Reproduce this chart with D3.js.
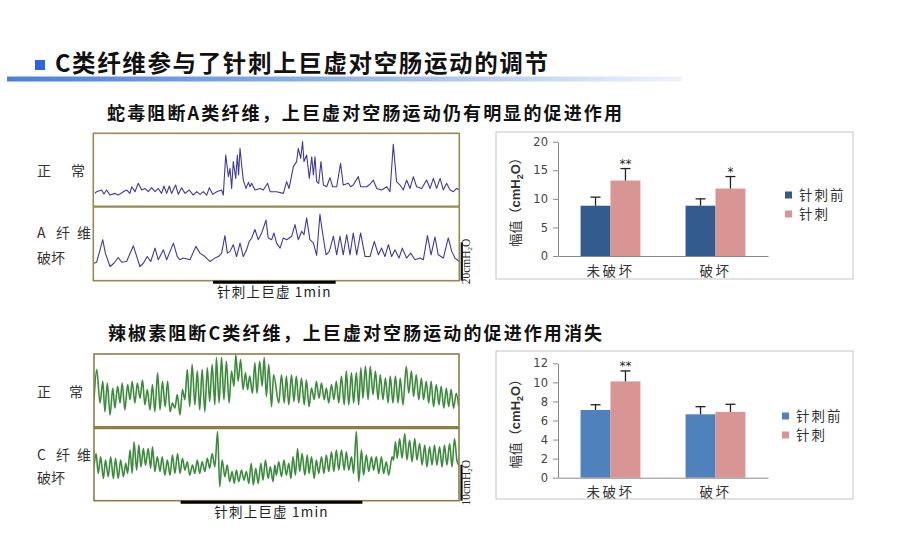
<!DOCTYPE html>
<html>
<head>
<meta charset="utf-8">
<script src="https://cdn.jsdelivr.net/npm/d3@7"></script>
<style>
  body { margin: 0; background: #fff; }
  svg { display: block; font-family: "Noto Sans CJK SC", sans-serif; }
</style>
</head>
<body>
<svg id="slide" width="900" height="537"></svg>
<script>
// ---------- texts ----------
const titleText = "C类纤维参与了针刺上巨虚对空肠运动的调节";
const subtitleSnake = "蛇毒阻断A类纤维，上巨虚对空肠运动仍有明显的促进作用";
const subtitleCap = "辣椒素阻断C类纤维，上巨虚对空肠运动的促进作用消失";
const stimLabel = "针刺上巨虚 1min";

// ---------- bar charts ----------
const groups = ["未破坏", "破坏"];
const seriesNames = ["针刺前", "针刺"];

const snakeBefore = [8.8, 8.8];
const snakeBeforeErr = [1.5, 1.2];
const snakeAfter = [13.2, 11.8];
const snakeAfterErr = [2.1, 2.1];
const snakeStars = ["**", "*"];
const snakeTicks = [0, 5, 10, 15, 20];

const capBefore = [7.1, 6.65];
const capBeforeErr = [0.55, 0.8];
const capAfter = [10.1, 6.9];
const capAfterErr = [1.1, 0.8];
const capStars = ["**", ""];
const capTicks = [0, 2, 4, 6, 8, 10, 12];

// ---------- pressure traces: [time (s), pressure (cmH2O)] ----------
// 蛇毒组 (record ~179 s, needling 58.6–118.6 s)
const snakeNormal = [
  [0.8,7.0],[1.6,7.9],[4.1,8.8],[5.2,6.7],[6.5,8.8],[8.2,6.1],[10.6,7.0],[12.2,6.1],[14.7,7.9],[16.3,8.8],
  [17.9,7.0],[18.8,10.5],[20.4,7.9],[22.0,12.3],[23.7,8.8],[25.3,9.6],[26.9,7.9],[28.5,10.0],[30.2,7.9],[31.8,9.6],
  [33.4,7.0],[34.6,10.9],[35.9,7.0],[37.2,10.9],[38.3,7.0],[40.3,11.4],[41.6,6.5],[43.2,10.0],[44.9,7.0],[47.0,8.8],
  [48.9,6.1],[50.6,7.9],[52.2,6.5],[53.8,7.9],[55.5,6.1],[56.8,10.0],[58.4,6.5],[60.4,7.9],[62.8,8.8],[63.6,6.1],
  [64.8,27.2],[66.1,15.8],[66.9,20.2],[67.7,9.6],[68.5,23.7],[69.7,14.9],[70.5,27.2],[71.1,16.7],[71.8,30.7],[72.6,21.9],
  [73.4,14.0],[74.7,9.6],[75.9,12.8],[76.7,10.5],[77.5,12.3],[79.1,8.8],[81.6,9.6],[83.2,8.8],[85.3,12.3],[86.5,7.9],
  [89.7,7.9],[93.0,7.0],[94.6,13.2],[95.8,9.6],[97.1,16.7],[97.9,21.1],[99.5,23.7],[100.3,30.7],[101.5,25.4],[102.4,34.2],
  [103.1,23.7],[104.4,27.2],[105.7,14.9],[106.9,26.3],[107.7,16.7],[108.5,26.3],[109.3,13.2],[110.3,12.3],[111.4,23.7],[112.6,11.4],
  [114.2,10.5],[115.8,15.3],[117.1,10.5],[119.1,10.5],[121.0,22.8],[122.3,11.4],[124.8,12.3],[125.9,10.5],[127.2,11.4],[129.7,15.8],
  [130.8,10.5],[133.8,10.5],[135.4,11.8],[137.0,14.0],[138.7,9.6],[141.1,8.8],[143.6,10.5],[145.2,7.9],[146.8,32.8],[148.4,13.2],
  [150.1,11.4],[151.7,8.8],[153.3,14.0],[155.0,9.6],[156.6,15.8],[158.2,10.5],[160.7,9.6],[163.1,14.0],[164.8,9.6],[166.4,14.9],
  [168.0,9.6],[169.7,14.9],[171.3,8.8],[172.9,12.3],[174.6,8.8],[176.2,7.9],[177.8,9.6],[179.1,8.8]
];
const snakeBlocked = [
  [0.3,9.1],[1.6,9.6],[3.3,16.1],[4.6,21.4],[5.9,14.4],[8.2,7.4],[10.1,9.1],[12.2,12.1],[13.9,9.6],[16.3,10.0],
  [19.6,18.2],[21.5,11.8],[22.8,7.4],[24.5,9.1],[26.4,12.6],[28.1,10.0],[30.2,17.0],[31.8,10.9],[34.3,16.1],[35.9,10.9],
  [39.2,19.6],[41.1,12.6],[42.4,10.9],[44.0,11.8],[47.3,10.9],[50.2,17.9],[52.2,14.4],[54.6,12.6],[57.1,10.0],[59.5,11.8],
  [61.2,12.6],[62.8,14.4],[64.4,23.5],[65.6,14.4],[66.9,15.3],[68.5,18.8],[70.1,12.6],[71.8,19.6],[73.4,12.6],[75.0,16.1],
  [76.3,20.5],[77.5,22.3],[79.1,26.7],[80.7,21.4],[82.4,24.9],[84.5,31.6],[85.6,22.3],[87.3,21.4],[88.4,24.9],[89.7,19.6],
  [91.4,17.0],[93.0,22.3],[94.6,21.4],[97.1,23.2],[98.7,29.3],[100.3,21.4],[102.0,25.8],[103.1,24.0],[104.4,32.8],[106.0,21.4],
  [107.7,19.6],[109.3,13.2],[110.1,24.0],[110.9,34.6],[112.2,24.9],[113.9,13.5],[115.5,15.3],[117.5,23.2],[119.1,13.5],[120.7,23.2],
  [122.3,13.5],[124.0,24.0],[125.6,13.5],[127.2,24.9],[128.9,13.5],[130.8,24.9],[133.0,12.6],[135.4,12.6],[137.5,20.5],[139.5,13.5],
  [141.1,17.0],[142.7,12.6],[144.4,18.8],[146.0,12.6],[147.6,16.1],[149.6,11.8],[151.2,17.0],[153.3,11.8],[155.3,14.4],[157.4,10.9],
  [159.9,11.8],[161.5,10.9],[163.5,23.5],[165.3,13.5],[167.2,22.8],[168.8,13.5],[171.3,11.8],[173.7,22.3],[175.4,15.3],[177.0,11.8],
  [179.1,10.0]
];
const snakeStim = [58.6, 118.6];

// 辣椒素组 (record ~120 s, needling 28.6–88.6 s)
const capNormal = [
  [0.0,7.7],[0.9,16.0],[2.0,6.8],[2.9,12.8],[3.6,4.4],[4.4,12.3],[5.3,3.5],[6.2,10.9],[6.9,5.4],[7.8,11.4],
  [8.6,6.8],[9.3,12.3],[10.2,4.9],[11.1,11.9],[11.9,7.7],[12.6,12.8],[13.5,6.8],[14.3,12.3],[15.2,8.1],[16.0,13.1],
  [16.8,6.3],[17.6,10.5],[18.5,4.9],[19.3,11.9],[20.1,4.4],[21.0,15.1],[21.8,4.9],[22.6,12.8],[23.5,5.8],[24.3,12.8],
  [25.1,4.4],[25.9,6.8],[26.7,5.4],[27.5,9.1],[28.4,3.5],[29.2,10.5],[30.0,7.7],[30.8,16.0],[31.6,5.8],[32.4,17.4],
  [33.3,6.3],[34.1,15.6],[34.9,4.9],[35.7,16.0],[36.6,4.4],[37.4,16.5],[38.2,7.2],[39.0,17.4],[39.9,6.3],[40.4,19.3],
  [41.3,6.8],[42.1,19.3],[42.9,7.7],[43.7,18.3],[44.6,6.8],[45.4,15.6],[46.2,11.4],[46.8,20.0],[47.6,12.8],[48.4,18.8],
  [49.2,10.5],[50.0,15.1],[50.7,10.5],[51.4,14.2],[52.3,9.5],[53.1,17.9],[53.8,9.5],[54.7,18.3],[55.5,11.4],[56.2,19.3],
  [56.9,8.6],[57.7,17.4],[58.6,5.8],[59.3,14.6],[61.0,6.8],[61.9,14.6],[62.8,6.8],[63.5,14.2],[64.3,6.3],[65.2,14.6],
  [66.0,7.2],[66.8,14.2],[67.6,6.8],[68.5,13.7],[69.4,6.3],[70.1,13.2],[71.0,5.8],[71.8,10.9],[72.7,7.7],[73.4,12.8],
  [74.3,8.1],[75.1,12.3],[76.0,7.7],[76.7,10.9],[77.5,6.8],[78.4,11.9],[79.2,7.7],[80.0,12.8],[80.8,6.8],[81.7,14.2],
  [82.6,6.3],[83.3,15.6],[84.1,6.3],[85.0,15.1],[85.7,6.8],[86.6,15.1],[87.4,6.3],[88.1,16.5],[88.8,8.1],[89.6,16.9],
  [90.5,7.7],[91.2,16.9],[92.1,9.1],[92.9,15.6],[93.8,7.7],[94.5,14.6],[95.4,7.7],[96.2,13.7],[97.1,6.8],[97.8,14.2],
  [98.7,6.8],[99.5,14.2],[100.4,6.8],[101.1,13.7],[102.0,6.3],[103.1,16.9],[103.9,9.5],[104.8,15.6],[105.5,8.6],[106.4,14.6],
  [107.2,7.7],[108.1,13.7],[108.8,7.7],[109.7,12.8],[110.5,6.8],[111.3,12.8],[112.1,5.8],[113.0,11.9],[113.9,6.3],[114.6,11.4],
  [115.5,5.4],[116.3,10.9],[117.1,5.8],[117.9,10.5],[118.7,5.4],[119.6,9.5],[120.4,5.8]
];
const capBlocked = [
  [0.0,9.4],[0.7,13.1],[1.4,7.6],[2.2,12.2],[3.1,6.2],[3.8,11.3],[4.7,6.7],[5.5,12.2],[6.4,6.2],[7.1,11.8],
  [8.0,6.2],[8.8,11.3],[9.7,6.7],[10.5,10.4],[11.1,7.6],[11.9,14.1],[12.6,7.6],[13.2,16.4],[14.1,8.5],[14.8,15.5],
  [15.5,9.4],[16.3,14.5],[17.0,9.9],[17.9,14.5],[18.7,9.0],[19.3,15.0],[20.1,8.1],[20.9,12.2],[21.8,8.1],[22.5,12.2],
  [23.4,7.1],[24.2,11.3],[25.1,7.1],[25.9,12.7],[26.7,7.6],[27.6,13.1],[28.4,7.6],[29.2,11.8],[30.0,8.5],[30.8,10.8],
  [31.6,7.1],[32.5,9.9],[33.3,7.6],[34.1,11.3],[34.9,7.6],[35.7,10.8],[36.6,8.1],[37.4,11.8],[38.2,9.0],[39.0,13.1],
  [39.9,9.4],[40.8,19.2],[41.5,3.9],[42.3,11.3],[43.2,6.7],[44.0,9.9],[44.8,5.3],[45.6,8.1],[46.3,4.8],[47.0,8.5],
  [47.8,5.3],[48.7,8.5],[49.5,5.7],[50.3,8.1],[51.1,4.8],[51.9,10.4],[52.6,4.4],[53.4,9.0],[54.2,4.8],[55.1,10.4],
  [55.8,5.7],[56.6,11.3],[57.5,6.2],[58.2,9.4],[59.1,5.3],[59.7,9.9],[60.2,7.1],[61.0,10.8],[61.9,6.7],[62.7,11.3],
  [63.5,7.1],[64.3,10.4],[65.0,6.2],[65.7,12.2],[66.5,7.1],[67.2,14.5],[67.9,8.1],[68.7,13.1],[69.6,7.1],[70.4,12.7],
  [71.0,7.6],[71.8,12.2],[72.7,6.2],[73.4,11.3],[74.2,7.6],[75.1,12.2],[75.9,7.6],[76.7,12.7],[77.5,8.1],[78.4,13.6],
  [79.2,8.1],[80.0,14.1],[80.8,8.5],[81.7,14.1],[82.6,8.5],[83.3,13.6],[84.1,8.5],[85.0,12.2],[85.7,7.6],[86.6,19.2],
  [87.4,5.3],[88.3,14.1],[89.0,7.1],[89.9,12.7],[90.7,8.1],[91.6,12.2],[92.3,8.5],[93.2,12.2],[94.0,7.6],[94.9,12.2],
  [95.6,7.6],[96.5,10.8],[97.3,7.1],[98.4,12.2],[98.9,11.3],[99.5,16.4],[100.1,11.8],[100.9,17.3],[101.7,11.8],[102.6,18.7],
  [103.3,11.3],[104.2,16.9],[105.0,10.8],[105.9,17.3],[106.6,11.3],[107.5,15.9],[108.3,9.9],[109.2,15.5],[109.9,9.4],[110.8,15.0],
  [111.6,9.9],[112.4,15.5],[113.2,9.9],[114.1,15.0],[114.9,9.4],[115.7,15.5],[116.5,9.9],[117.4,15.9],[118.2,9.4],[119.0,17.3],
  [119.8,11.3],[120.4,9.9]
];
const capStim = [28.6, 88.6];

// ---------- drawing ----------
const svg = d3.select("#slide");
const defs = svg.append("defs");

// header
const grad = defs.append("linearGradient").attr("id", "headLine");
grad.append("stop").attr("offset", "0%").attr("stop-color", "#4a80d4");
grad.append("stop").attr("offset", "55%").attr("stop-color", "#9dbbe8");
grad.append("stop").attr("offset", "100%").attr("stop-color", "#eef3fb");

svg.append("rect").attr("x", 35).attr("y", 60).attr("width", 10).attr("height", 10).attr("fill", "#2f62e0");
svg.append("text")
    .attr("x", 55).attr("y", 72)
    .attr("font-size", 23.5).attr("font-weight", "bold").attr("fill", "#111")
    .attr("textLength", 493).attr("lengthAdjust", "spacing")
    .text(titleText);
svg.append("rect").attr("x", 7).attr("y", 76.5).attr("width", 675).attr("height", 5).attr("fill", "url(#headLine)");

function subtitle(txt, x, y, len) {
  svg.append("text")
      .attr("x", x).attr("y", y)
      .attr("font-size", 18).attr("font-weight", "bold").attr("fill", "#111")
      .attr("textLength", len).attr("lengthAdjust", "spacing")
      .text(txt);
}
subtitle(subtitleSnake, 107, 119.5, 515);
subtitle(subtitleCap, 108, 339.5, 494);

// side labels
function sideLabel(parts, y) {
  parts.forEach(([t, x]) => {
    svg.append("text").attr("x", x).attr("y", y).attr("dy", "0.35em")
        .attr("font-size", 14).attr("fill", "#333").text(t);
  });
}

// trace panel
let clipId = 0;
function tracePanel(cfg) {
  const g = svg.append("g");
  const x = d3.scaleLinear().domain([0, cfg.tMax]).range([cfg.left, cfg.right]);
  const yUp = d3.scaleLinear().domain([0, cfg.vMax]).range([cfg.mid, cfg.top]);
  const yDown = d3.scaleLinear().domain([0, cfg.vMax]).range([cfg.bottom, cfg.mid]);

  [[cfg.normal, yUp, cfg.top, cfg.mid], [cfg.blocked, yDown, cfg.mid, cfg.bottom]].forEach(([data, yy, y0, y1]) => {
    const id = "clip" + (clipId++);
    defs.append("clipPath").attr("id", id)
      .append("rect").attr("x", cfg.left).attr("y", y0).attr("width", cfg.right - cfg.left).attr("height", y1 - y0);
    const line = d3.line().x(d => x(d[0])).y(d => yy(d[1])).curve(cfg.curve);
    g.append("path").datum(data)
        .attr("clip-path", `url(#${id})`)
        .attr("d", line)
        .attr("fill", "none")
        .attr("stroke", cfg.color)
        .attr("stroke-width", cfg.lineWidth)
        .attr("stroke-linejoin", "round");
  });

  // frame
  g.append("rect")
      .attr("x", cfg.left).attr("y", cfg.top)
      .attr("width", cfg.right - cfg.left).attr("height", cfg.bottom - cfg.top)
      .attr("fill", "none").attr("stroke", cfg.frame).attr("stroke-width", 1.6);
  g.append("line")
      .attr("x1", cfg.left).attr("x2", cfg.right)
      .attr("y1", cfg.mid).attr("y2", cfg.mid)
      .attr("stroke", cfg.frame).attr("stroke-width", cfg.midWidth);

  // needling bar and label
  g.append("line")
      .attr("x1", x(cfg.stim[0])).attr("x2", x(cfg.stim[1]))
      .attr("y1", cfg.bottom + 1.5).attr("y2", cfg.bottom + 1.5)
      .attr("stroke", "#000").attr("stroke-width", 3);
  g.append("text")
      .attr("x", x((cfg.stim[0] + cfg.stim[1]) / 2)).attr("y", cfg.bottom + 16)
      .attr("text-anchor", "middle")
      .attr("font-size", 13.5).attr("letter-spacing", 1.2).attr("fill", "#222")
      .text(stimLabel);

  // calibration bar
  const sx = cfg.right + 2.5;
  g.append("line")
      .attr("x1", sx).attr("x2", sx)
      .attr("y1", yDown(0)).attr("y2", yDown(cfg.scaleValue))
      .attr("stroke", "#111").attr("stroke-width", 2.2);
  const st = g.append("text")
      .attr("transform", `translate(${sx + 8},${(yDown(0) + yDown(cfg.scaleValue)) / 2}) rotate(-90)`)
      .attr("text-anchor", "middle")
      .attr("font-family", "Liberation Serif, serif")
      .attr("font-size", 11.5).attr("fill", "#222");
  st.append("tspan").text(cfg.scaleValue + "cmH");
  st.append("tspan").attr("font-size", 7).attr("dy", 2).text("2");
  st.append("tspan").attr("dy", -2).text("O");
}

tracePanel({
  left: 93.3, right: 459.3, top: 133.3, mid: 206.7, bottom: 280.7,
  tMax: 179.1, vMax: 38.6,
  normal: snakeNormal, blocked: snakeBlocked, stim: snakeStim,
  color: "#3f3a9c", lineWidth: 1.1, curve: d3.curveLinear,
  frame: "#968a58", midWidth: 2.2, scaleValue: 20
});
tracePanel({
  left: 94, right: 459, top: 354, mid: 427.7, bottom: 500.7,
  tMax: 120.5, vMax: 20.3,
  normal: capNormal, blocked: capBlocked, stim: capStim,
  color: "#3c8a3c", lineWidth: 1.6, curve: d3.curveMonotoneX,
  frame: "#8c7e48", midWidth: 3.2, scaleValue: 10
});

sideLabel([["正", 37], ["常", 71]], 171.5);
sideLabel([["A", 37], ["纤", 56], ["维", 77]], 233);
sideLabel([["破坏", 37]], 258);
sideLabel([["正", 37], ["常", 69]], 392);
sideLabel([["C", 37], ["纤", 56], ["维", 77]], 455);
sideLabel([["破坏", 37]], 478);

// bar charts
function barChart(cfg) {
  const g = svg.append("g");
  g.append("rect")
      .attr("x", cfg.box[0]).attr("y", cfg.box[1])
      .attr("width", cfg.box[2] - cfg.box[0]).attr("height", cfg.box[3] - cfg.box[1])
      .attr("fill", "#fff").attr("stroke", "#c4c4c4").attr("stroke-width", 1);

  const x = d3.scaleBand().domain(groups).range(cfg.xRange).paddingInner(0.43).paddingOuter(0.215);
  const xs = d3.scaleBand().domain(seriesNames).range([0, x.bandwidth()]);
  const y = d3.scaleLinear().domain([0, cfg.yMax]).range(cfg.yRange);

  const rows = groups.map((grp, i) => ({
    grp,
    vals: [
      { s: seriesNames[0], v: cfg.before[i], e: cfg.beforeErr[i] },
      { s: seriesNames[1], v: cfg.after[i], e: cfg.afterErr[i], star: cfg.stars[i] }
    ]
  }));

  const gg = g.selectAll(".grp").data(rows).enter().append("g")
      .attr("transform", d => `translate(${x(d.grp)},0)`);
  const bars = gg.selectAll(".b").data(d => d.vals).enter().append("g");
  bars.append("rect")
      .attr("x", d => xs(d.s)).attr("width", xs.bandwidth())
      .attr("y", d => y(d.v)).attr("height", d => y(0) - y(d.v))
      .attr("fill", (d, i) => cfg.colors[i]);
  bars.append("line")
      .attr("x1", d => xs(d.s) + xs.bandwidth() / 2).attr("x2", d => xs(d.s) + xs.bandwidth() / 2)
      .attr("y1", d => y(d.v)).attr("y2", d => y(d.v + d.e))
      .attr("stroke", "#222").attr("stroke-width", 1.3);
  bars.append("line")
      .attr("x1", d => xs(d.s) + xs.bandwidth() / 2 - 5).attr("x2", d => xs(d.s) + xs.bandwidth() / 2 + 5)
      .attr("y1", d => y(d.v + d.e)).attr("y2", d => y(d.v + d.e))
      .attr("stroke", "#222").attr("stroke-width", 1.3);
  bars.filter(d => d.star).append("text")
      .attr("x", d => xs(d.s) + xs.bandwidth() / 2)
      .attr("y", d => y(d.v + d.e) - 1)
      .attr("text-anchor", "middle")
      .attr("font-family", "DejaVu Sans, sans-serif")
      .attr("font-size", 12).attr("fill", "#222")
      .text(d => d.star);

  const ax = g.append("g")
      .attr("transform", `translate(${cfg.xRange[0]},0)`)
      .call(d3.axisLeft(y).tickValues(cfg.ticks).tickSize(5).tickPadding(5).tickSizeOuter(0));
  ax.select(".domain").attr("stroke", "#8a8a8a");
  ax.selectAll(".tick line").attr("stroke", "#8a8a8a");
  ax.selectAll(".tick text")
      .attr("font-family", "DejaVu Sans, sans-serif").attr("font-size", 11.5).attr("fill", "#444");

  const bx = g.append("g")
      .attr("transform", `translate(0,${y(0)})`)
      .call(d3.axisBottom(x).tickSize(0).tickPadding(10));
  bx.select(".domain").attr("stroke", "#8a8a8a");
  bx.selectAll(".tick text")
      .attr("font-family", "Noto Sans CJK SC, sans-serif")
      .attr("font-size", 13.5).attr("letter-spacing", 2.5).attr("fill", "#333");

  // y label
  const yl = g.append("text")
      .attr("transform", `translate(${cfg.yLabelX},${(cfg.yRange[0] + cfg.yRange[1]) / 2}) rotate(-90)`)
      .attr("text-anchor", "middle").attr("dy", "0.35em")
      .attr("font-size", 13).attr("fill", "#333");
  yl.append("tspan").text("幅值（");
  yl.append("tspan").attr("font-weight", "bold").attr("font-family", "Liberation Sans, sans-serif").text("cmH");
  yl.append("tspan").attr("font-weight", "bold").attr("font-size", 9).attr("dy", 3).attr("font-family", "Liberation Sans, sans-serif").text("2");
  yl.append("tspan").attr("font-weight", "bold").attr("dy", -3).attr("font-family", "Liberation Sans, sans-serif").text("O");
  yl.append("tspan").text("）");

  // legend
  const lg = g.selectAll(".leg").data(seriesNames).enter().append("g")
      .attr("transform", (d, i) => `translate(${cfg.legendX},${cfg.legendY + i * 19})`);
  lg.append("rect").attr("x", 0).attr("y", -3.5).attr("width", 7).attr("height", 7)
      .attr("fill", (d, i) => cfg.colors[i]);
  lg.append("text").attr("x", 14).attr("dy", "0.35em")
      .attr("font-size", 13.5).attr("letter-spacing", 2).attr("fill", "#333")
      .text(d => d);
}

barChart({
  box: [496, 132, 853, 279],
  xRange: [558, 768], yRange: [256, 141.7], yMax: 20, ticks: snakeTicks,
  before: snakeBefore, beforeErr: snakeBeforeErr, after: snakeAfter, afterErr: snakeAfterErr,
  stars: snakeStars, colors: ["#335b8e", "#d99594"],
  yLabelX: 515, legendX: 785, legendY: 195
});
barChart({
  box: [496, 351, 853, 499],
  xRange: [558, 768], yRange: [477.7, 363.3], yMax: 12, ticks: capTicks,
  before: capBefore, beforeErr: capBeforeErr, after: capAfter, afterErr: capAfterErr,
  stars: capStars, colors: ["#4f81bd", "#d99594"],
  yLabelX: 515, legendX: 782, legendY: 416
});
</script>
</body>
</html>
